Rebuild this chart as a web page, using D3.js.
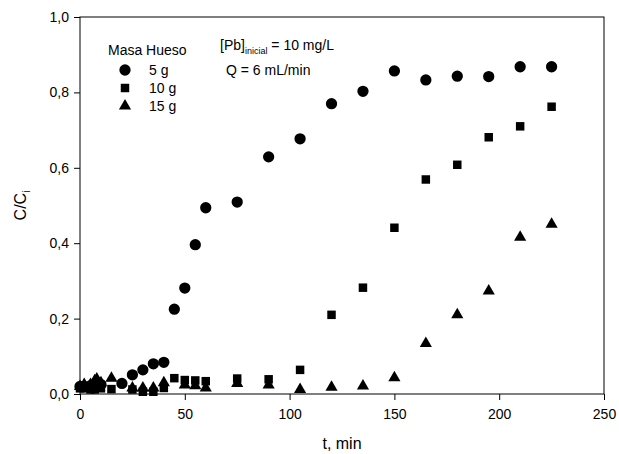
<!DOCTYPE html>
<html>
<head>
<meta charset="utf-8">
<script src="https://cdn.jsdelivr.net/npm/d3@7"></script>
<style>
body { margin: 0; background: #fff; }
text { font-family: "Liberation Sans", Arial, Helvetica, sans-serif; fill: #000; }
</style>
</head>
<body>
<div id="chart"></div>
<script>
// breakthrough curves, Pb on bone char
var t5 = [0, 2, 5, 7, 10, 20, 25, 30, 35, 40, 45, 50, 55, 60, 75, 90, 105, 120, 135, 150, 165, 180, 195, 210, 225];
var c5 = [0.02, 0.02, 0.022, 0.022, 0.025, 0.028, 0.051, 0.064, 0.080, 0.084, 0.225, 0.281, 0.396, 0.494, 0.509, 0.629, 0.677, 0.77, 0.803, 0.857, 0.833, 0.843, 0.842, 0.868, 0.868];

var t10 = [0, 2, 5, 7, 10, 15, 25, 30, 35, 40, 45, 50, 55, 60, 75, 90, 105, 120, 135, 150, 165, 180, 195, 210, 225];
var c10 = [0.015, 0.015, 0.012, 0.012, 0.015, 0.013, 0.012, 0.006, 0.006, 0.016, 0.042, 0.037, 0.036, 0.034, 0.041, 0.039, 0.064, 0.21, 0.282, 0.441, 0.569, 0.608, 0.681, 0.71, 0.762];

var t15 = [0, 2, 5, 7, 8, 10, 15, 25, 30, 35, 40, 50, 55, 60, 75, 90, 105, 120, 135, 150, 165, 180, 195, 210, 225];
var c15 = [0.02, 0.025, 0.025, 0.035, 0.04, 0.03, 0.042, 0.016, 0.016, 0.016, 0.03, 0.024, 0.022, 0.016, 0.028, 0.024, 0.012, 0.018, 0.021, 0.043, 0.134, 0.21, 0.273, 0.416, 0.45];

var xTicks = [0, 50, 100, 150, 200, 250];
var yTicks = [0, 0.2, 0.4, 0.6, 0.8, 1.0];

var width = 619, height = 454;
var margin = {left: 80, right: 15, top: 17, bottom: 60};

var svg = d3.select('#chart').append('svg')
    .attr('width', width)
    .attr('height', height);

var x = d3.scaleLinear().domain([0, 250]).range([margin.left, width - margin.right]);
var y = d3.scaleLinear().domain([0, 1]).range([height - margin.bottom, margin.top]);

var fmt = function(d) { return d3.format('.1f')(d).replace('.', ','); };

// frame
svg.append('rect')
    .attr('x', x(0)).attr('y', y(1))
    .attr('width', x(250) - x(0)).attr('height', y(0) - y(1))
    .attr('fill', 'none').attr('stroke', '#000').attr('stroke-width', 1);

var xAxis = svg.append('g')
    .attr('transform', 'translate(0,' + y(0) + ')')
    .call(d3.axisBottom(x).tickValues(xTicks).tickSize(6).tickPadding(9));
var yAxis = svg.append('g')
    .attr('transform', 'translate(' + x(0) + ',0)')
    .call(d3.axisLeft(y).tickValues(yTicks).tickFormat(fmt).tickSize(6).tickPadding(5));

[xAxis, yAxis].forEach(function(a) {
    a.select('.domain').remove();
    a.selectAll('text').style('font-size', '14px').attr('fill', '#000');
    a.selectAll('line').attr('stroke', '#000');
});

// markers
var circ = d3.symbol().type(d3.symbolCircle).size(100);
var sq = d3.symbol().type(d3.symbolSquare).size(72);
var tri = d3.symbol().type(d3.symbolTriangle).size(64);

function drawSeries(ts, cs, sym) {
    svg.append('g').selectAll('path')
        .data(ts.map(function(t, i) { return [t, cs[i]]; }))
        .enter().append('path')
        .attr('d', sym)
        .attr('fill', '#000')
        .attr('transform', function(d) { return 'translate(' + x(d[0]) + ',' + y(d[1]) + ')'; });
}
drawSeries(t15, c15, tri);
drawSeries(t10, c10, sq);
drawSeries(t5, c5, circ);

// legend
var leg = svg.append('g');
leg.append('text').attr('x', 108).attr('y', 55).style('font-size', '14px').text('Masa Hueso');
var legItems = [['5 g', circ], ['10 g', sq], ['15 g', tri]];
legItems.forEach(function(it, i) {
    var yy = 70 + i * 18;
    leg.append('path').attr('d', it[1]).attr('fill', '#000')
        .attr('transform', 'translate(125,' + yy + ')');
    leg.append('text').attr('x', 149).attr('y', yy + 5).style('font-size', '14px').text(it[0]);
});

// conditions
var note = svg.append('text').attr('x', 220).attr('y', 50).style('font-size', '14px');
note.append('tspan').text('[Pb]');
note.append('tspan').attr('dy', 4).style('font-size', '9px').text('inicial');
note.append('tspan').attr('dy', -4).text(' = 10 mg/L');
svg.append('text').attr('x', 226).attr('y', 75).style('font-size', '14px').text('Q = 6 mL/min');

// axis titles
svg.append('text').attr('x', x(125)).attr('y', 449).attr('text-anchor', 'middle')
    .style('font-size', '16px').text('t, min');
var yl = svg.append('text')
    .attr('transform', 'translate(26,' + y(0.5) + ') rotate(-90)')
    .attr('text-anchor', 'middle').style('font-size', '16px');
yl.append('tspan').text('C/C');
yl.append('tspan').attr('dy', 4).style('font-size', '10px').text('i');
</script>
</body>
</html>
